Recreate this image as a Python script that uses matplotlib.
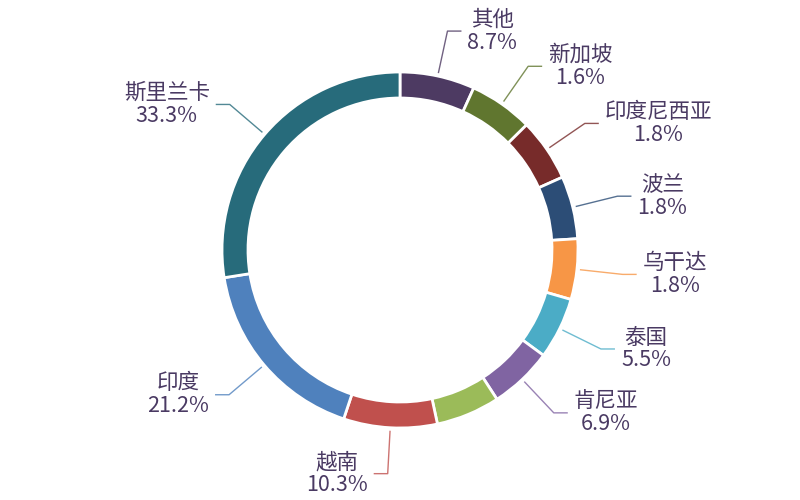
import numpy as np
import matplotlib
matplotlib.use('Agg')
import matplotlib.pyplot as plt

plt.rcParams['font.family'] = ['Noto Sans CJK SC', 'DejaVu Sans']

# Data: segments clockwise from the top
names = ['其他', '新加坡', '印度尼西亚', '波兰', '乌干达', '泰国', '肯尼亚', '',
         '越南', '印度', '斯里兰卡']
pct_labels = ['8.7%', '1.6%', '1.8%', '1.8%', '1.8%', '5.5%', '6.9%', '',
              '10.3%', '21.2%', '33.3%']
# arc shares as drawn (small slices are widened to a minimum angle)
arc_share = [6.8, 5.8, 5.7, 5.7, 5.5, 5.6, 5.75, 5.8, 8.5, 17.4, 27.5]
colors = ['#4d3a62', '#60762f', '#772b2a', '#2c4d76', '#f79646', '#4bacc6',
          '#8064a2', '#9bbb59', '#c0504d', '#4f81bd', '#276b7b']

W, H = 800, 500
cx, cy = 400, 250
R = 178
ring = 26

fig = plt.figure(figsize=(8, 5), dpi=100)
ax = fig.add_axes([0, 0, 1, 1])
wedges, _ = ax.pie(arc_share, colors=colors, startangle=90, counterclock=False,
                   center=(cx, cy), radius=R,
                   wedgeprops=dict(width=ring, edgecolor='white', linewidth=2))
ax.set_xlim(0, W)
ax.set_ylim(0, H)
ax.set_aspect('equal')
ax.axis('off')

txt_color = '#4a3a63'
for w, name, pct, col in zip(wedges, names, pct_labels, colors):
    if not name:
        continue
    mid = np.deg2rad((w.theta1 + w.theta2) / 2)
    x0, y0 = cx + (R + 3) * np.cos(mid), cy + (R + 3) * np.sin(mid)
    x1, y1 = cx + (R + 46) * np.cos(mid), cy + (R + 46) * np.sin(mid)
    side = 1 if np.cos(mid) >= 0 else -1
    x2 = x1 + side * 14
    ax.plot([x0, x1, x2], [y0, y1, y1], color=col, lw=1, alpha=0.8,
            solid_capstyle='butt')
    ax.text(x2 + side * 6, y1, name + '\n' + pct, ha='left' if side > 0 else 'right',
            va='center', multialignment='center', fontsize=15.5, fontweight='light',
            color=txt_color, linespacing=1.05)

fig.savefig('out.png', dpi=100)
